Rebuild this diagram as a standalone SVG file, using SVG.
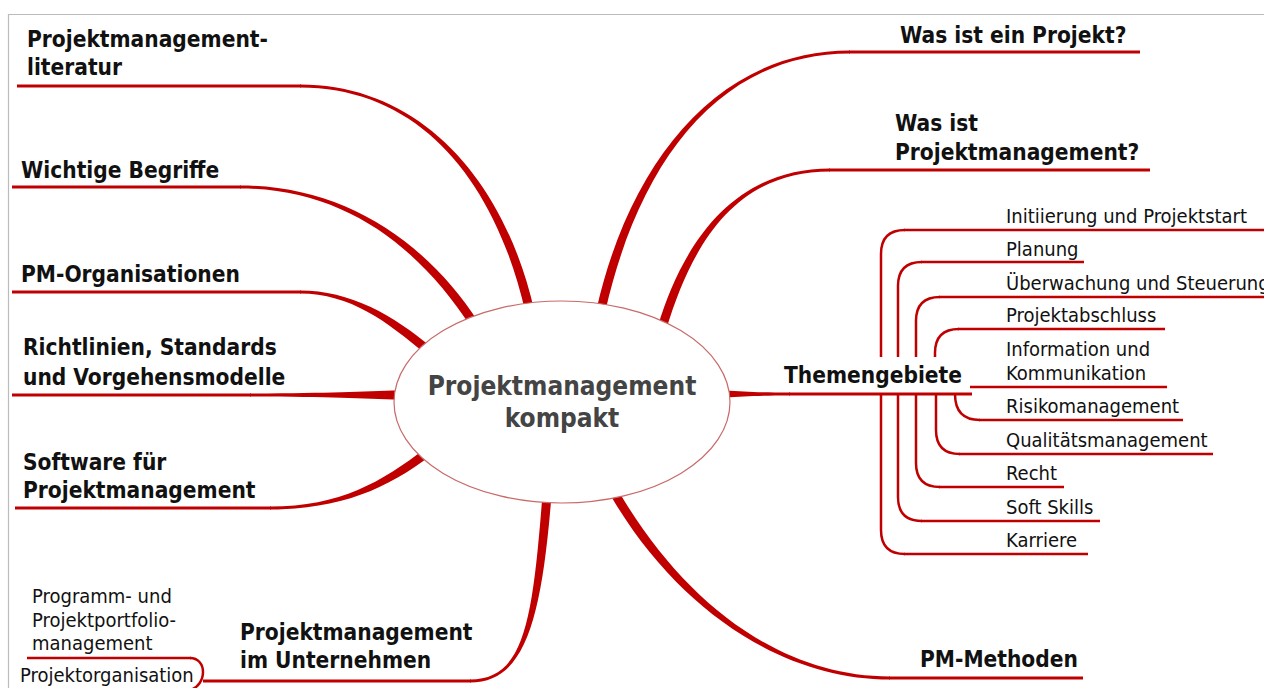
<svg xmlns="http://www.w3.org/2000/svg" width="1264" height="688" viewBox="0 0 1264 688">
<style>
.b{font-family:'DejaVu Sans Condensed','DejaVu Sans',sans-serif;font-stretch:condensed;font-weight:bold;font-size:22.5px;fill:#111}
.n{font-family:'DejaVu Sans Condensed','DejaVu Sans',sans-serif;font-stretch:condensed;font-size:20px;fill:#111}
.c{font-family:'DejaVu Sans Condensed','DejaVu Sans',sans-serif;font-stretch:condensed;font-weight:bold;font-size:26px;fill:#444;text-anchor:middle}
.br{fill:#c00000;stroke:none}
.ul{fill:none;stroke:#c00000;stroke-width:3}
.sl{fill:none;stroke:#c00000;stroke-width:2.5}
.frame{fill:none;stroke:#bbbbbb;stroke-width:1.2}
</style>
<rect width="1264" height="688" fill="#ffffff"/>
<path class="frame" d="M8.5,688 L8.5,14.5 L1264,14.5"/>

<g id="connectors">
  <path class="br" d="M300,84.5 C420,84.5 504.4,179 534.4,311 L525.6,313 C495.6,181 420,87.5 300,87.5 Z"/>
  <path class="br" d="M240,185.5 C340,185.5 423.8,237.6 478.8,322.6 L471.2,327.4 C416.2,242.4 340,188.5 240,188.5 Z"/>
  <path class="br" d="M300,290.5 C350,290.5 392.9,314.6 432.9,348.6 L427.1,355.4 C387.1,321.4 350,293.5 300,293.5 Z"/>
  <path class="br" d="M250,393.5 C330,393.5 360,391 400,390.5 L400,399.5 C360,399 330,396.5 250,396.5 Z"/>
  <path class="br" d="M270,506.5 C340,506.5 382.3,481.4 425.3,448.4 L430.7,455.6 C387.7,488.6 340,509.5 270,509.5 Z"/>
  <path class="br" d="M470,679.5 C525,679.5 532.5,619.6 542.5,494.6 L551.5,495.4 C541.5,620.4 525,682.5 470,682.5 Z"/>
  <path class="br" d="M890,676.5 C780,676.5 683.9,602.7 618.9,491.7 L611.1,496.3 C676.1,607.3 780,679.5 890,679.5 Z"/>
  <path class="br" d="M725,390.5 C745,391.8 760,392.5 790,392.5 L790,395.5 C760,395.5 745,396.2 725,397.5 Z"/>
  <path class="br" d="M830,168.5 C740,168.5 685.7,233.7 657.7,326.7 L666.3,329.3 C694.3,236.3 740,171.5 830,171.5 Z"/>
  <path class="br" d="M850,50.5 C720,50.5 630.6,159 596.6,309 L605.4,311 C639.4,161 720,53.5 850,53.5 Z"/>
  <path class="sl" d="M881,357 L881,254 Q881,230 905,230"/>
  <path class="sl" d="M898,357 L898,286 Q898,262 922,262"/>
  <path class="sl" d="M916,357 L916,321 Q916,297 940,297"/>
  <path class="sl" d="M935,357 L935,353 Q935,329 959,329"/>
  <path class="sl" d="M955,394 Q955,420 980,420"/>
  <path class="sl" d="M936,394 L936,430 Q936,454 960,454"/>
  <path class="sl" d="M916,394 L916,463 Q916,487 940,487"/>
  <path class="sl" d="M898,394 L898,497 Q898,521 922,521"/>
  <path class="sl" d="M881,394 L881,530 Q881,554 905,554"/>
  <path class="sl" d="M190,658 C198,658 203,664 203,672 C203,680 198,688 190,690"/>
</g>

<g id="center">
  <ellipse cx="562" cy="402" rx="168" ry="101" fill="#ffffff" stroke="#c86a6a" stroke-width="1.2"/>
  <text class="c" x="562" y="395">Projektmanagement</text>
  <text class="c" x="562" y="427">kompakt</text>
</g>

<g id="n-literatur">
  <path class="ul" d="M17,86 L301,86"/>
  <text class="b" x="27" y="47">Projektmanagement-</text>
  <text class="b" x="27" y="75">literatur</text>
</g>
<g id="n-begriffe">
  <path class="ul" d="M12,187 L241,187"/>
  <text class="b" x="21" y="178">Wichtige Begriffe</text>
</g>
<g id="n-organisationen">
  <path class="ul" d="M12,292 L301,292"/>
  <text class="b" x="21" y="282">PM-Organisationen</text>
</g>
<g id="n-richtlinien">
  <path class="ul" d="M12,395 L251,395"/>
  <text class="b" x="23" y="355">Richtlinien, Standards</text>
  <text class="b" x="23" y="385">und Vorgehensmodelle</text>
</g>
<g id="n-software">
  <path class="ul" d="M15,508 L271,508"/>
  <text class="b" x="23" y="470">Software für</text>
  <text class="b" x="23" y="498">Projektmanagement</text>
</g>
<g id="n-unternehmen">
  <path class="ul" d="M203,681 L471,681"/>
  <text class="b" x="240" y="640">Projektmanagement</text>
  <text class="b" x="240" y="668">im Unternehmen</text>
</g>
<g id="n-portfolio">
  <path class="sl" d="M27,658 L191,658"/>
  <text class="n" x="32" y="603">Programm- und</text>
  <text class="n" x="32" y="627">Projektportfolio-</text>
  <text class="n" x="32" y="650">management</text>
</g>
<g id="n-projektorganisation">
  <text class="n" x="20" y="682">Projektorganisation</text>
</g>
<g id="n-projekt">
  <path class="ul" d="M849,52 L1140,52"/>
  <text class="b" x="900" y="43">Was ist ein Projekt?</text>
</g>
<g id="n-pm">
  <path class="ul" d="M829,170 L1150,170"/>
  <text class="b" x="895" y="131">Was ist</text>
  <text class="b" x="895" y="160">Projektmanagement?</text>
</g>
<g id="n-themengebiete">
  <path class="ul" d="M789,394 L972,394"/>
  <text class="b" x="784" y="383">Themengebiete</text>
</g>
<g id="n-methoden">
  <path class="ul" d="M889,678 L1083,678"/>
  <text class="b" x="920" y="667">PM-Methoden</text>
</g>

<g id="t-initiierung">
  <path class="sl" d="M904,230 L1264,230"/>
  <text class="n" x="1006" y="223">Initiierung und Projektstart</text>
</g>
<g id="t-planung">
  <path class="sl" d="M921,262 L1084,262"/>
  <text class="n" x="1006" y="256">Planung</text>
</g>
<g id="t-ueberwachung">
  <path class="sl" d="M939,297 L1264,297"/>
  <text class="n" x="1006" y="290">Überwachung und Steuerung</text>
</g>
<g id="t-abschluss">
  <path class="sl" d="M958,329 L1165,329"/>
  <text class="n" x="1006" y="322">Projektabschluss</text>
</g>
<g id="t-information">
  <path class="sl" d="M970,387 L1167,387"/>
  <text class="n" x="1006" y="356">Information und</text>
  <text class="n" x="1006" y="380">Kommunikation</text>
</g>
<g id="t-risiko">
  <path class="sl" d="M979,420 L1183,420"/>
  <text class="n" x="1006" y="413">Risikomanagement</text>
</g>
<g id="t-qualitaet">
  <path class="sl" d="M959,454 L1213,454"/>
  <text class="n" x="1006" y="447">Qualitätsmanagement</text>
</g>
<g id="t-recht">
  <path class="sl" d="M939,487 L1064,487"/>
  <text class="n" x="1006" y="480">Recht</text>
</g>
<g id="t-softskills">
  <path class="sl" d="M921,521 L1100,521"/>
  <text class="n" x="1006" y="514">Soft Skills</text>
</g>
<g id="t-karriere">
  <path class="sl" d="M904,554 L1088,554"/>
  <text class="n" x="1006" y="547">Karriere</text>
</g>
</svg>
